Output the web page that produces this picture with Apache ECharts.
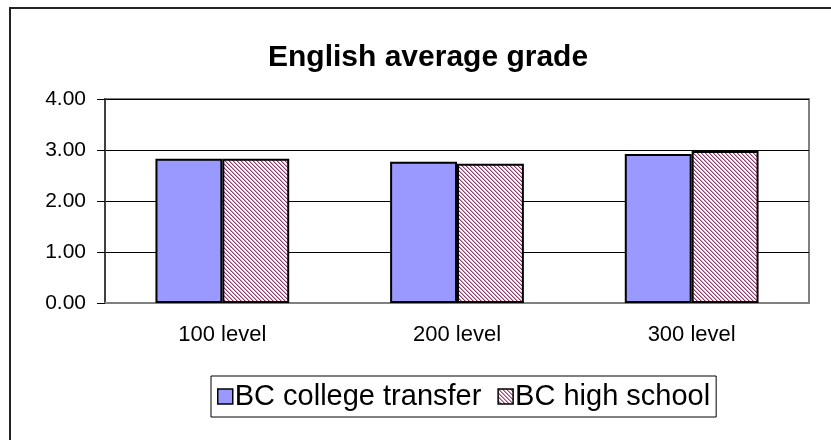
<!DOCTYPE html>
<html>
<head>
<meta charset="utf-8">
<script src="https://cdn.jsdelivr.net/npm/echarts@6/dist/echarts.min.js"></script>
<style>
  html, body { margin: 0; padding: 0; background: #fff; }
  #chart { width: 831px; height: 440px; }
</style>
</head>
<body>
<div id="chart"></div>
<script>
const categories = ['100 level', '200 level', '300 level'];
const collegeTransfer = [2.83, 2.77, 2.92];
const highSchool = [2.83, 2.73, 2.98];
const yTicks = [0, 1, 2, 3, 4];

// diagonal hatch like the old Excel fill, pixel exact
const makeHatch = () => {
  const c = document.createElement('canvas');
  c.width = 8;
  c.height = 8;
  const ctx = c.getContext('2d');
  ctx.fillStyle = '#fff';
  ctx.fillRect(0, 0, 8, 8);
  for (let y = 0; y < 8; y++) {
    for (let x = 0; x < 8; x++) {
      const d = (x - y + 8) % 4;
      if (d === 0) {
        ctx.fillStyle = '#993366';
        ctx.fillRect(x, y, 1, 1);
      } else if (d === 1) {
        ctx.fillStyle = '#d6a8bf';
        ctx.fillRect(x, y, 1, 1);
      }
    }
  }
  return c;
};

const chart = echarts.init(document.getElementById('chart'));
const font = 'Liberation Sans, Arial, sans-serif';

const option = {
  backgroundColor: '#fff',
  animation: false,
  title: {
    text: 'English average grade',
    left: 263,
    top: 38,
    textStyle: { fontFamily: font, fontSize: 30, fontWeight: 'bold', color: '#000' }
  },
  graphic: [{
    type: 'rect',
    shape: { x: 10, y: 8, width: 830, height: 440 },
    style: { fill: 'none', stroke: '#222', lineWidth: 2 },
    silent: true
  }],
  legend: {
    left: 211,
    top: 376,
    padding: [6, 6],
    itemGap: 16,
    itemWidth: 15,
    itemHeight: 15,
    icon: 'rect',
    borderColor: '#000',
    borderWidth: 1,
    itemStyle: { borderColor: '#000', borderWidth: 1.5 },
    textStyle: { fontFamily: font, fontSize: 29, color: '#000', padding: [0, 0, 0, -3] },
    data: ['BC college transfer', 'BC high school']
  },
  grid: {
    left: 105,
    right: 22,
    top: 99,
    bottom: 137,
    show: true,
    borderColor: '#808080',
    borderWidth: 2
  },
  xAxis: {
    type: 'category',
    data: categories,
    axisLine: { lineStyle: { color: '#808080', width: 2 } },
    axisTick: { length: 8, lineStyle: { color: '#000' } },
    axisLabel: { margin: 21, fontFamily: font, fontSize: 22, color: '#000' }
  },
  yAxis: {
    type: 'value',
    min: yTicks[0],
    max: yTicks[yTicks.length - 1],
    interval: 1,
    axisLine: { show: true, lineStyle: { color: '#404040', width: 2 } },
    axisTick: { show: true, length: 8, lineStyle: { color: '#000' } },
    axisLabel: {
      margin: 19,
      fontFamily: font,
      fontSize: 21,
      color: '#000',
      formatter: v => v.toFixed(2)
    },
    splitLine: { lineStyle: { color: '#000', width: 1 } }
  },
  series: [
    {
      name: 'BC college transfer',
      type: 'bar',
      barGap: '0%',
      barCategoryGap: '43%',
      data: collegeTransfer,
      itemStyle: { color: '#9999ff', borderColor: '#000', borderWidth: 2 }
    },
    {
      name: 'BC high school',
      type: 'bar',
      data: highSchool,
      itemStyle: {
        color: { image: makeHatch(), repeat: 'repeat' },
        borderColor: '#000',
        borderWidth: 2
      }
    }
  ]
};

chart.setOption(option);
</script>
</body>
</html>
